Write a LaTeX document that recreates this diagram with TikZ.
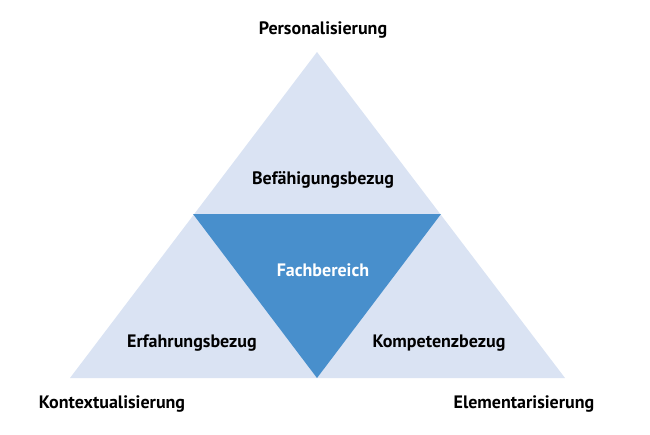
\documentclass[tikz,border=0pt]{standalone}
\usepackage{fontspec}
\setmainfont{PT Sans}
\definecolor{hellblau}{RGB}{218,227,243}
\definecolor{mittelblau}{RGB}{72,143,204}
\tikzset{
  label/.style={font=\bfseries\fontsize{18}{21}\selectfont, text=black},
}
\begin{document}
\begin{tikzpicture}[x=1pt, y=-1pt]  % Pixelkoordinaten

    % Rahmen
    \useasboundingbox (0,0) rectangle (650,434);

    % grosses Dreieck
    \fill[hellblau] (317,52) -- (70,378) -- (565,378) -- cycle;

    % inneres Dreieck (Spitze nach unten)
    \fill[mittelblau] (193,214) -- (441,214) -- (317,378) -- cycle;

    % Beschriftungen innen
    \node[label] (befaehigung) at (323,180) {Befähigungsbezug};
    \node[label, text=white] (fach) at (323,270) {Fachbereich};
    \node[label] (erfahrung) at (192,343) {Erfahrungsbezug};
    \node[label] (kompetenz) at (439,343) {Kompetenzbezug};

    % Ecken
    \node[label] (person) at (323,30) {Personalisierung};
    \node[label] (kontext) at (112,404) {Kontextualisierung};
    \node[label] (element) at (524,404) {Elementarisierung};

\end{tikzpicture}
\end{document}
